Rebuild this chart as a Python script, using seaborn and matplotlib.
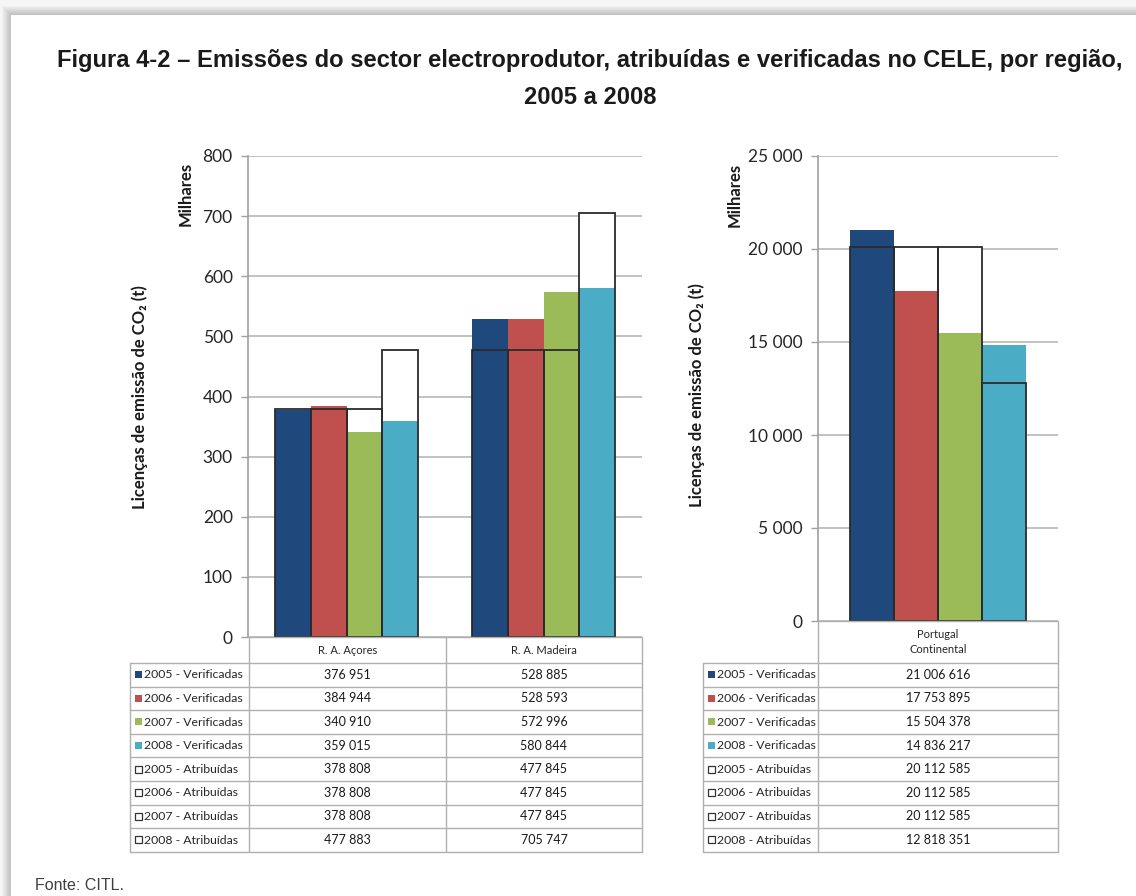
import numpy as np
import pandas as pd
import matplotlib
matplotlib.use("Agg")
import matplotlib.pyplot as plt
from matplotlib.patches import Rectangle
from matplotlib.ticker import FuncFormatter, MultipleLocator
import seaborn as sns

# ---- data (t CO2) ----
years = ["2005", "2006", "2007", "2008"]
regioes_ilhas = ["R. A. Açores", "R. A. Madeira"]
regiao_continente = ["Portugal\nContinental"]

verificadas_acores = [376951, 384944, 340910, 359015]
verificadas_madeira = [528885, 528593, 572996, 580844]
atribuidas_acores = [378808, 378808, 378808, 477883]
atribuidas_madeira = [477845, 477845, 477845, 705747]

verificadas_continente = [21006616, 17753895, 15504378, 14836217]
atribuidas_continente = [20112585, 20112585, 20112585, 12818351]

cores_anos = ["#1F497D", "#C0504D", "#9BBB59", "#4BACC6"]

titulo = ("Figura 4-2 – Emissões do sector electroprodutor, atribuídas e verificadas "
          "no CELE, por região,\n2005 a 2008")
rotulo_y = "Licenças de emissão de CO₂ (t)"
fonte = "Fonte: CITL."

sns.set_style("white")
plt.rcParams["font.family"] = ["Lato", "DejaVu Sans"]

W, H = 1136, 896
fig = plt.figure(figsize=(W / 100, H / 100), dpi=100)


def fx(x):
    return x / W


def fy(y):
    return 1 - y / H


# ---- page background with soft shadow ----
bg = fig.add_axes([0, 0, 1, 1], zorder=-10)
bg.set_xlim(0, W)
bg.set_ylim(H, 0)
bg.axis("off")
bg.add_patch(Rectangle((0, 0), W, H, color="#f6f6f6", lw=0))
for i in range(9, 0, -1):
    bg.add_patch(Rectangle((11 - i, 15 - i), W + 20, H + 20, color="black",
                           alpha=0.022, lw=0))
bg.add_patch(Rectangle((11, 15), W, H, color="white", lw=0))


def long_frame(regioes, verificadas, atribuidas):
    rows = []
    for r, ver, atr in zip(regioes, verificadas, atribuidas):
        for y, v, a in zip(years, ver, atr):
            rows.append({"regiao": r, "ano": y,
                         "verificadas": v / 1000, "atribuidas": a / 1000})
    return pd.DataFrame(rows)


def draw_panel(ax, df, regioes, width):
    common = dict(data=df, x="regiao", hue="ano", order=regioes,
                  hue_order=years, width=width, errorbar=None, legend=False,
                  saturation=1, ax=ax)
    # allocated licences: white boxes that mask the gridlines
    sns.barplot(y="atribuidas", palette=["white"] * 4, linewidth=0,
                zorder=2, **common)
    # verified emissions
    sns.barplot(y="verificadas", palette=cores_anos, linewidth=0,
                zorder=3, **common)
    # outline of the allocated licences on top
    sns.barplot(y="atribuidas", palette=["#2b2b2b"] * 4, fill=False,
                linewidth=1.3, zorder=4, **common)
    ax.set_xlabel("")
    ax.set_ylabel("")
    ax.set_xticks([])
    for s in ["top", "right", "bottom"]:
        ax.spines[s].set_visible(False)
    ax.spines["left"].set_color("#a0a0a0")
    ax.spines["left"].set_linewidth(1.2)
    ax.yaxis.grid(True, color="#bdbdbd", linewidth=1.3, zorder=0)
    ax.set_axisbelow(True)
    ax.tick_params(axis="y", left=True, length=5, width=1.0, color="#a0a0a0",
                   labelsize=12.5, labelcolor="#262626", pad=6)
    ax.yaxis.set_major_formatter(
        FuncFormatter(lambda v, p: f"{v:,.0f}".replace(",", " ")))


# ---- left panel: autonomous regions ----
ax1 = fig.add_axes([fx(248), fy(637), fx(642) - fx(248), fy(156) - fy(637)])
df_ilhas = long_frame(regioes_ilhas,
                      [verificadas_acores, verificadas_madeira],
                      [atribuidas_acores, atribuidas_madeira])
draw_panel(ax1, df_ilhas, regioes_ilhas, 0.725)
ax1.set_ylim(0, 800)
ax1.yaxis.set_major_locator(MultipleLocator(100))
ax1.set_xlim(-0.5, 1.5)

# ---- right panel: mainland ----
ax2 = fig.add_axes([fx(818), fy(621), fx(1058) - fx(818), fy(156) - fy(621)])
df_cont = long_frame(regiao_continente, [verificadas_continente],
                     [atribuidas_continente])
draw_panel(ax2, df_cont, regiao_continente, 0.73)
ax2.set_ylim(0, 25000)
ax2.yaxis.set_major_locator(MultipleLocator(5000))
ax2.set_xlim(-0.5, 0.5)

# ---- axis titles ----
for x, y in [(140, 397), (697, 395)]:
    fig.text(fx(x), fy(y), rotulo_y, rotation=90, ha="center", va="center",
             fontsize=12, fontweight="bold", color="#1a1a1a",
             family=["Lato", "DejaVu Sans"])
for x, y in [(186, 194), (735, 195)]:
    fig.text(fx(x), fy(y), "Milhares", rotation=90, ha="center", va="center",
             fontsize=12, fontweight="bold", color="#1a1a1a")

# ---- title and source ----
fig.text(fx(590), fy(79), titulo, ha="center", va="center", fontsize=17.1,
         fontweight="bold", color="#1a1a1a", linespacing=1.75,
         family=["Liberation Sans Narrow", "Liberation Sans", "DejaVu Sans"])
fig.text(fx(35), fy(885), fonte, ha="left", va="center", fontsize=11.5,
         color="#404040", family=["Liberation Sans", "DejaVu Sans"])

# ---- data tables ----
tb = fig.add_axes([0, 0, 1, 1], zorder=10)
tb.set_xlim(0, W)
tb.set_ylim(H, 0)
tb.axis("off")
tb.patch.set_alpha(0)

row_labels = [f"{y} - Verificadas" for y in years] + \
             [f"{y} - Atribuídas" for y in years]
row_top, row_h = 663, 23.6
line_c = "#b0b0b0"


def fmt(v):
    return f"{v:,.0f}".replace(",", " ")


def draw_table(x_left, x_lab, col_edges, head_top, headers, columns):
    n = len(row_labels)
    bottom = row_top + n * row_h
    # header cells
    tb.plot([col_edges[0], col_edges[-1]], [head_top, head_top], color=line_c, lw=1)
    for e in col_edges:
        tb.plot([e, e], [head_top, bottom], color=line_c, lw=1)
    for i, h in enumerate(headers):
        tb.text((col_edges[i] + col_edges[i + 1]) / 2, (head_top + row_top) / 2,
                h, ha="center", va="center", fontsize=8, color="#262626",
                linespacing=1.5)
    # body
    tb.plot([x_left, x_left], [row_top, bottom], color=line_c, lw=1)
    for k in range(n + 1):
        yk = row_top + k * row_h
        tb.plot([x_left, col_edges[-1]], [yk, yk], color=line_c, lw=1)
    for k, lab in enumerate(row_labels):
        yc = row_top + (k + 0.5) * row_h
        if k < 4:
            tb.add_patch(Rectangle((x_left + 5, yc - 3.5), 7, 7,
                                   facecolor=cores_anos[k], lw=0))
        else:
            tb.add_patch(Rectangle((x_left + 5, yc - 3.5), 7, 7,
                                   facecolor="white", edgecolor="#333333", lw=0.9))
        tb.text(x_left + 14, yc, lab, ha="left", va="center", fontsize=8.8,
                color="#262626")
        for i, col in enumerate(columns):
            tb.text((col_edges[i] + col_edges[i + 1]) / 2, yc, fmt(col[k]),
                    ha="center", va="center", fontsize=9, color="#1a1a1a")


draw_table(130, 249, [249, 446, 642], 637, regioes_ilhas,
           [verificadas_acores + atribuidas_acores,
            verificadas_madeira + atribuidas_madeira])
draw_table(703, 818, [818, 1058], 621, regiao_continente,
           [verificadas_continente + atribuidas_continente])

fig.savefig("out.png", dpi=100)
